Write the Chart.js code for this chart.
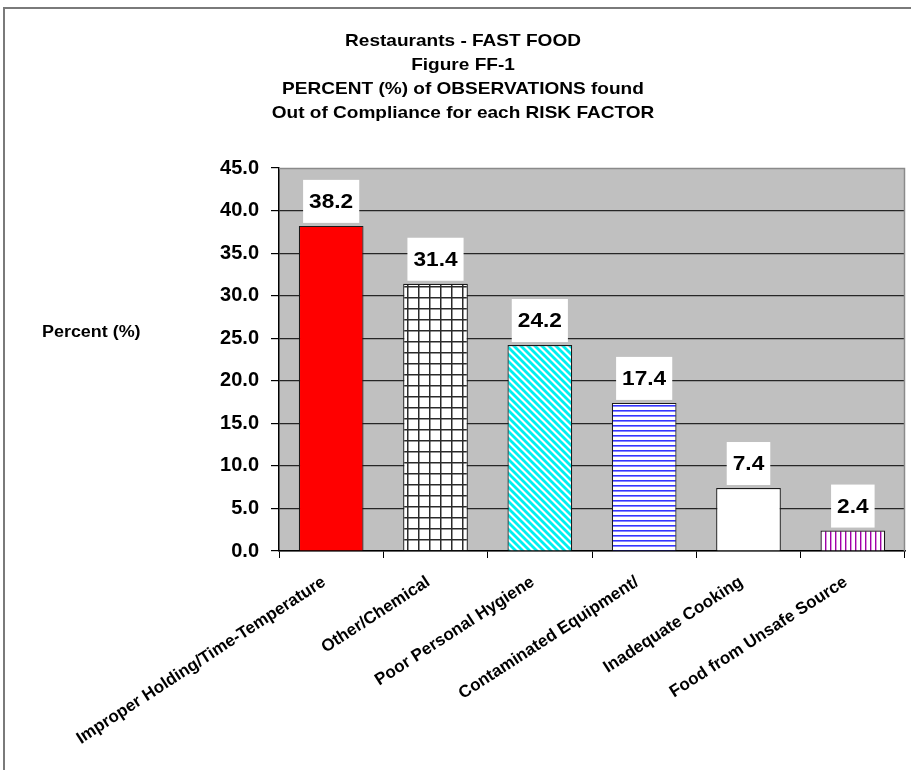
<!DOCTYPE html>
<html><head><meta charset="utf-8">
<style>
html,body{margin:0;padding:0;background:#fff;overflow:hidden;width:911px;height:770px}
#frame{position:absolute;left:3px;top:7px;width:940px;height:800px;border-left:2px solid #7a7a7a;border-top:2px solid #7a7a7a;}
#c{position:absolute;left:0;top:0}
</style>
<script src="https://cdn.jsdelivr.net/npm/chart.js@4.4.1/dist/chart.umd.min.js"></script>
</head>
<body>
<div id="frame"></div>
<canvas id="c" width="911" height="770"></canvas>
<script>
const titleLines = ['Restaurants - FAST FOOD', 'Figure FF-1', 'PERCENT (%) of OBSERVATIONS found', 'Out of Compliance for each RISK FACTOR'];
const yAxisLabel = 'Percent (%)';
const categories = ['Improper Holding/Time-Temperature', 'Other/Chemical', 'Poor Personal Hygiene', 'Contaminated Equipment/', 'Inadequate Cooking', 'Food from Unsafe Source'];
const percentValues = [38.2, 31.4, 24.2, 17.4, 7.4, 2.4];
const yMin = 0, yMax = 45, yStep = 5;

const FONT = '"Liberation Sans", Arial, sans-serif';
const STRETCH = 1.12;

function makePattern(w, h, draw) {
  const c = document.createElement('canvas');
  c.width = w; c.height = h;
  const g = c.getContext('2d');
  g.fillStyle = '#fff'; g.fillRect(0, 0, w, h);
  draw(g, w, h);
  return document.getElementById('c').getContext('2d').createPattern(c, 'repeat');
}
const gridPat = makePattern(11, 11, (g, w, h) => {
  g.fillStyle = '#2a2a2a';
  g.fillRect(0, 0, w, 1.5);
  g.fillRect(0, 0, 1.5, h);
});
const diagPat = makePattern(7, 7, (g, w, h) => {
  g.strokeStyle = '#00f0f0'; g.lineWidth = 2.8; g.lineCap = 'square';
  for (let k = -1; k <= 1; k++) {
    g.beginPath(); g.moveTo(k * w, 0); g.lineTo(k * w + w, h); g.stroke();
  }
});
const horizPat = makePattern(5, 5, (g, w, h) => {
  g.fillStyle = '#3535ff';
  g.fillRect(0, 0, w, 1.6);
});
const vertPat = makePattern(5, 5, (g, w, h) => {
  g.fillStyle = '#a000a8';
  g.fillRect(0, 0, 1.4, h);
});
const barFills = ['#ff0000', gridPat, diagPat, horizPat, '#ffffff', vertPat];

function stretchedText(ctx, txt, x, y, align) {
  ctx.save();
  ctx.translate(x, y);
  ctx.scale(STRETCH, 1);
  ctx.textAlign = align;
  ctx.fillText(txt, 0, 0);
  ctx.restore();
}

const decorPlugin = {
  id: 'decor',
  beforeDraw(chart) {
    const { ctx, chartArea: a } = chart;
    ctx.save();
    ctx.fillStyle = '#c0c0c0';
    ctx.fillRect(a.left, a.top, a.right - a.left, a.bottom - a.top);
    ctx.restore();
  },
  afterDraw(chart) {
    const { ctx, chartArea: a } = chart;
    ctx.save();
    ctx.strokeStyle = '#8a8a8a'; ctx.lineWidth = 1.5;
    ctx.beginPath();
    ctx.moveTo(a.left, a.top + 0.5); ctx.lineTo(a.right - 0.5, a.top + 0.5); ctx.lineTo(a.right - 0.5, a.bottom);
    ctx.stroke();
    ctx.fillStyle = '#000';
    ctx.textBaseline = 'middle';
    ctx.font = 'bold 17px ' + FONT;
    const ty = [41, 65, 89, 113];
    titleLines.forEach((t, i) => stretchedText(ctx, t, 463, ty[i], 'center'));
    ctx.font = 'bold 16px ' + FONT;
    stretchedText(ctx, yAxisLabel, 42, 333, 'left');
    const meta = chart.getDatasetMeta(0);
    ctx.font = 'bold 21px ' + FONT;
    meta.data.forEach((bar, i) => {
      const txt = percentValues[i].toFixed(1);
      const tw = ctx.measureText(txt).width * 1.08;
      const w = tw + 12, h = 43;
      const x = bar.x, bottom = bar.y - 3;
      ctx.fillStyle = '#fff';
      ctx.fillRect(x - w / 2, bottom - h, w, h);
      ctx.fillStyle = '#000';
      ctx.save();
      ctx.translate(x, bottom - h / 2 + 1);
      ctx.scale(1.08, 1);
      ctx.textAlign = 'center';
      ctx.fillText(txt, 0, 0);
      ctx.restore();
    });
    ctx.restore();
  }
};

new Chart(document.getElementById('c'), {
  type: 'bar',
  data: {
    labels: categories,
    datasets: [{
      data: percentValues,
      backgroundColor: barFills,
      borderColor: '#1a1a1a',
      borderWidth: 1.2,
      barPercentage: 0.62,
      categoryPercentage: 1.0
    }]
  },
  options: {
    responsive: false,
    animation: false,
    devicePixelRatio: 1,
    layout: { padding: { top: 168, right: 6, left: 0, bottom: 0 } },
    plugins: { legend: { display: false }, title: { display: false }, tooltip: { enabled: false } },
    scales: {
      x: {
        grid: { drawOnChartArea: false, drawTicks: true, tickLength: 7, tickColor: '#000', offset: true },
        border: { color: '#000', width: 1.5 },
        ticks: { color: '#000', font: { family: FONT, weight: 'bold', size: 17 }, minRotation: 33, maxRotation: 33, autoSkip: false, padding: 14, labelOffset: -7 },
        afterFit(s) { s.height = 219; }
      },
      y: {
        min: yMin, max: yMax,
        grid: {
          color: (c) => (c.tick && c.tick.value === yMax) ? 'rgba(0,0,0,0)' : '#262626',
          lineWidth: 1.2, tickLength: 8, tickColor: '#000'
        },
        border: { color: '#000', width: 1.5 },
        ticks: { stepSize: yStep, color: '#000', padding: 12, font: { family: FONT, weight: 'bold', size: 20 }, callback: (v) => v.toFixed(1) },
        afterFit(s) { s.width = 279; }
      }
    }
  },
  plugins: [decorPlugin]
});
</script>
</body></html>
